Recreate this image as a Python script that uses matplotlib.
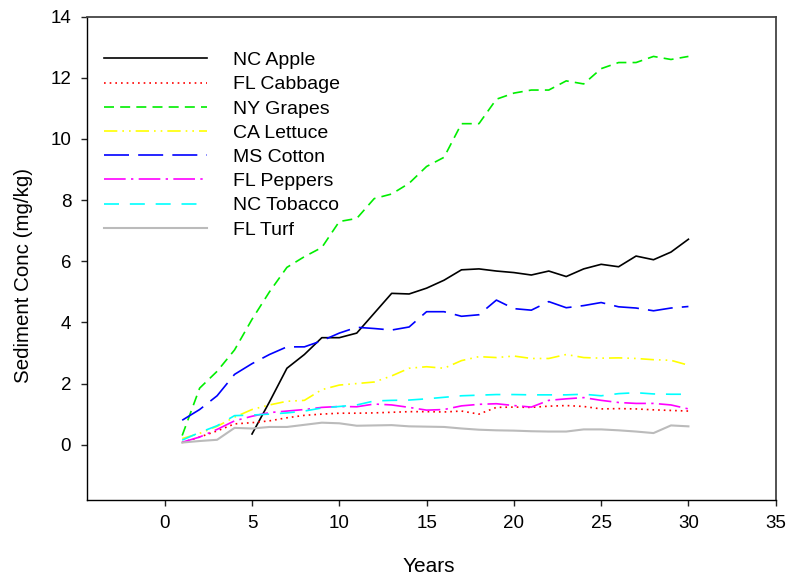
import matplotlib
matplotlib.use("Agg")
import matplotlib.pyplot as plt

plt.rcParams['font.family'] = ['Liberation Sans', 'DejaVu Sans']

years = list(range(1, 31))
apple_years = list(range(5, 31))

nc_apple = [0.35, 1.4, 2.5, 2.95, 3.5, 3.5, 3.65, 4.3, 4.95, 4.93, 5.12, 5.38, 5.72,
            5.75, 5.68, 5.63, 5.55, 5.68, 5.5, 5.75, 5.9, 5.82, 6.17, 6.05, 6.3, 6.72]
fl_cabbage = [0.07, 0.25, 0.45, 0.68, 0.72, 0.78, 0.88, 0.96, 1.0, 1.03, 1.03, 1.04, 1.06,
              1.08, 1.08, 1.07, 1.1, 1.0, 1.22, 1.23, 1.22, 1.26, 1.28, 1.25, 1.17, 1.18,
              1.17, 1.14, 1.12, 1.1]
ny_grapes = [0.3, 1.85, 2.4, 3.1, 4.1, 5.0, 5.8, 6.15, 6.45, 7.3, 7.4, 8.05, 8.2, 8.55,
             9.1, 9.4, 10.5, 10.5, 11.3, 11.5, 11.6, 11.6, 11.9, 11.8, 12.3, 12.5, 12.5,
             12.7, 12.6, 12.7]
ca_lettuce = [0.2, 0.37, 0.6, 0.9, 1.15, 1.3, 1.42, 1.45, 1.8, 1.95, 2.0, 2.05, 2.25,
              2.5, 2.55, 2.5, 2.75, 2.88, 2.85, 2.9, 2.82, 2.82, 2.95, 2.85, 2.83, 2.84,
              2.82, 2.78, 2.76, 2.6]
ms_cotton = [0.8, 1.15, 1.6, 2.3, 2.65, 2.95, 3.2, 3.2, 3.4, 3.65, 3.84, 3.8, 3.75, 3.85,
             4.35, 4.35, 4.2, 4.25, 4.73, 4.45, 4.4, 4.68, 4.48, 4.55, 4.65, 4.51, 4.47,
             4.38, 4.47, 4.52]
fl_peppers = [0.08, 0.25, 0.5, 0.78, 0.93, 1.05, 1.1, 1.15, 1.22, 1.25, 1.24, 1.33, 1.3,
              1.22, 1.13, 1.15, 1.27, 1.32, 1.34, 1.28, 1.23, 1.45, 1.5, 1.54, 1.45, 1.38,
              1.35, 1.35, 1.3, 1.17]
nc_tobacco = [0.15, 0.4, 0.62, 0.95, 0.97, 1.0, 1.04, 1.1, 1.2, 1.25, 1.3, 1.43, 1.45,
              1.46, 1.5, 1.55, 1.6, 1.62, 1.64, 1.64, 1.63, 1.63, 1.63, 1.65, 1.6, 1.67,
              1.7, 1.66, 1.65, 1.65]
fl_turf = [0.07, 0.12, 0.16, 0.55, 0.53, 0.58, 0.58, 0.65, 0.72, 0.7, 0.62, 0.63, 0.64,
           0.6, 0.59, 0.58, 0.53, 0.49, 0.47, 0.46, 0.44, 0.43, 0.43, 0.5, 0.5, 0.47,
           0.43, 0.38, 0.63, 0.6]

fig = plt.figure(figsize=(7.88, 5.79), dpi=100)
ax = fig.add_axes([0.1098, 0.1364, 0.8746, 0.8348])

lw = 1.2
ax.plot(apple_years, nc_apple, color='black', lw=lw, ls='-', label='NC Apple')
ax.plot(years, fl_cabbage, color='red', lw=lw, ls=(0, (1, 2.4)), label='FL Cabbage')
ax.plot(years, ny_grapes, color='#00ee00', lw=lw, ls=(0, (6, 3.7)), label='NY Grapes')
ax.plot(years, ca_lettuce, color='#ffff00', lw=lw, ls=(0, (8, 3, 1, 3, 1, 3)), label='CA Lettuce')
ax.plot(years, ms_cotton, color='#0000ff', lw=lw, ls=(0, (15, 5.5)), label='MS Cotton')
ax.plot(years, fl_peppers, color='#ff00ff', lw=lw, ls=(0, (13, 3.2, 1.4, 3.2)), label='FL Peppers')
ax.plot(years, nc_tobacco, color='#00ffff', lw=lw, ls=(0, (9, 6.5)), label='NC Tobacco')
ax.plot(years, fl_turf, color='#bbbbbb', lw=1.5, ls='-', label='FL Turf')

ax.set_xlim(-4.48, 35)
ax.set_ylim(-1.81, 14)
ax.set_xticks([0, 5, 10, 15, 20, 25, 30, 35])
ax.set_yticks([0, 2, 4, 6, 8, 10, 12, 14])
ax.tick_params(axis='both', direction='out', length=4.5, width=1, labelsize=13.5, color='#222222')
ax.tick_params(axis='x', pad=6)
ax.tick_params(axis='y', pad=6.5)

for s in ['left', 'bottom']:
    ax.spines[s].set_color('black')
    ax.spines[s].set_linewidth(1.0)
for s in ['top', 'right']:
    ax.spines[s].set_color('#444444')
    ax.spines[s].set_linewidth(1.3)

ax.set_xlabel('Years', fontsize=15)
ax.set_ylabel('Sediment Conc (mg/kg)', fontsize=14.8)
ax.xaxis.set_label_coords(0.497, -0.118)
ax.yaxis.set_label_coords(-0.078, 0.4655)

leg = ax.legend(loc='upper left', bbox_to_anchor=(0.005, 0.956), frameon=False, fontsize=14,
                handlelength=5.3, handletextpad=1.35, labelspacing=0.34, borderaxespad=0.3)

fig.savefig('out.png', dpi=100)
